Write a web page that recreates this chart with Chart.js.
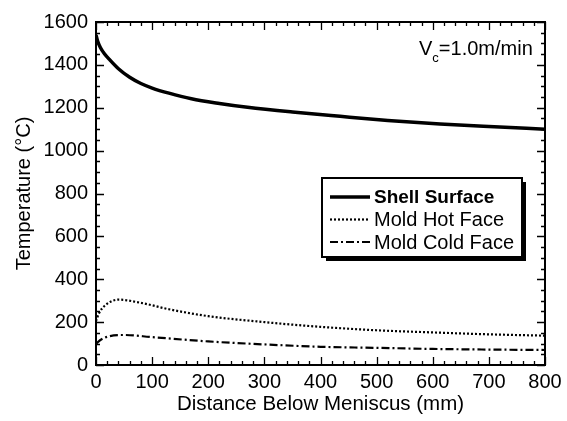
<!DOCTYPE html>
<html>
<head>
<meta charset="utf-8">
<title>Temperature Below Meniscus</title>
<script src="https://cdn.jsdelivr.net/npm/chart.js@4/dist/chart.umd.min.js"></script>
<style>
  body { margin: 0; background: #fff; }
  canvas { display: block; }
</style>
</head>
<body>
<canvas id="tempChart" width="567" height="421"></canvas>
<script>
// distances below meniscus (mm) and temperatures (C)
const shellX = [0, 3, 8, 15, 25, 40, 60, 80, 100, 130, 170, 220, 270, 350, 435, 520, 613, 700, 800];
const shellY = [1540, 1510, 1480, 1452, 1422, 1382, 1342, 1313, 1292, 1268, 1242, 1220, 1202, 1180, 1160, 1141, 1124, 1112, 1100];

const hotX = [0, 5, 15, 40, 80, 130, 200, 300, 400, 500, 600, 700, 800];
const hotY = [205, 240, 275, 305, 290, 260, 228, 200, 178, 162, 152, 143, 137];

const coldX = [0, 10, 25, 50, 100, 200, 300, 400, 500, 600, 700, 800];
const coldY = [100, 120, 135, 140, 130, 110, 96, 85, 80, 75, 72, 70];

const seriesNames = ['Shell Surface', 'Mold Hot Face', 'Mold Cold Face'];
const speedLabel = ['V', 'c', '=1.0m/min'];

const FONT = '"Liberation Sans", Arial, Helvetica, sans-serif';

function pts(xs, ys) {
  return xs.map((x, i) => ({ x: x, y: ys[i] }));
}

// inward ticks on all four sides, majors + minors
const tickMarks = {
  id: 'tickMarks',
  afterDatasetsDraw(chart) {
    const ctx = chart.ctx;
    const a = chart.chartArea;
    const xs = chart.scales.x, ys = chart.scales.y;
    ctx.save();
    ctx.strokeStyle = '#000';
    ctx.lineWidth = 1.3;
    ctx.beginPath();
    for (let v = 0; v <= 800; v += 20) {
      const p = Math.round(xs.getPixelForValue(v)) + 0.5;
      const len = v % 100 === 0 ? 8 : 4;
      ctx.moveTo(p, a.bottom); ctx.lineTo(p, a.bottom - len);
      ctx.moveTo(p, a.top); ctx.lineTo(p, a.top + len);
    }
    for (let v = 0; v <= 1600; v += 50) {
      const p = Math.round(ys.getPixelForValue(v)) + 0.5;
      const len = v % 200 === 0 ? 8 : 4;
      ctx.moveTo(a.left, p); ctx.lineTo(a.left + len, p);
      ctx.moveTo(a.right, p); ctx.lineTo(a.right - len, p);
    }
    ctx.stroke();
    ctx.lineWidth = 2;
    ctx.strokeRect(a.left, a.top, a.right - a.left, a.bottom - a.top);
    ctx.restore();
  }
};

// boxed legend with drop shadow + speed note
const boxLegend = {
  id: 'boxLegend',
  afterDraw(chart) {
    const ctx = chart.ctx;
    ctx.save();
    const bx = 322, by = 178, bw = 200, bh = 79;
    ctx.fillStyle = '#000';
    ctx.fillRect(bx + 4, by + 4, bw, bh);
    ctx.fillStyle = '#fff';
    ctx.fillRect(bx, by, bw, bh);
    ctx.strokeStyle = '#000';
    ctx.lineWidth = 2;
    ctx.strokeRect(bx, by, bw, bh);

    chart.data.datasets.forEach((ds, i) => {
      const y = 197 + i * 22.5;
      ctx.strokeStyle = '#000';
      ctx.lineWidth = ds.borderWidth;
      ctx.setLineDash(ds.borderDash || []);
      ctx.beginPath();
      ctx.moveTo(330, y);
      ctx.lineTo(370, y);
      ctx.stroke();
      ctx.setLineDash([]);
      ctx.fillStyle = '#000';
      ctx.textBaseline = 'middle';
      ctx.font = (i === 0 ? 'bold 19px ' : '20px ') + FONT;
      ctx.fillText(ds.label, 374, y + 1);
    });

    ctx.textBaseline = 'alphabetic';
    ctx.font = '20px ' + FONT;
    ctx.fillText(speedLabel[0], 419, 55);
    let x = 419 + ctx.measureText(speedLabel[0]).width;
    ctx.font = '13px ' + FONT;
    ctx.fillText(speedLabel[1], x, 62);
    x += ctx.measureText(speedLabel[1]).width;
    ctx.font = '20px ' + FONT;
    ctx.fillText(speedLabel[2], x, 55);
    ctx.restore();
  }
};

new Chart(document.getElementById('tempChart'), {
  type: 'line',
  data: {
    datasets: [
      {
        label: seriesNames[0],
        data: pts(shellX, shellY),
        borderColor: '#000',
        borderWidth: 3.5,
        cubicInterpolationMode: 'monotone'
      },
      {
        label: seriesNames[1],
        data: pts(hotX, hotY),
        borderColor: '#000',
        borderWidth: 2.2,
        borderDash: [2, 2],
        cubicInterpolationMode: 'monotone'
      },
      {
        label: seriesNames[2],
        data: pts(coldX, coldY),
        borderColor: '#000',
        borderWidth: 2.2,
        borderDash: [8, 3, 2, 3],
        cubicInterpolationMode: 'monotone'
      }
    ]
  },
  options: {
    responsive: false,
    animation: false,
    events: [],
    elements: { point: { radius: 0 } },
    layout: { padding: { top: 22, right: 22, left: 0, bottom: 0 } },
    plugins: {
      legend: { display: false },
      tooltip: { enabled: false }
    },
    scales: {
      x: {
        type: 'linear',
        min: 0, max: 800,
        afterFit(scale) { scale.height = 56; },
        grid: { display: false, drawTicks: false },
        border: { display: false },
        ticks: {
          stepSize: 100, padding: 5, color: '#000',
          font: { family: FONT, size: 20 },
          callback: v => String(v)
        },
        title: {
          display: true, text: 'Distance Below Meniscus (mm)', color: '#000',
          font: { family: FONT, size: 20.5 }, padding: { top: 0, bottom: 4 }
        }
      },
      y: {
        min: 0, max: 1600,
        afterFit(scale) { scale.width = 96; },
        grid: { display: false, drawTicks: false },
        border: { display: false },
        ticks: {
          stepSize: 200, padding: 8, color: '#000',
          font: { family: FONT, size: 20 },
          callback: v => String(v)
        },
        title: {
          display: true, text: 'Temperature (°C)', color: '#000',
          font: { family: FONT, size: 20 }, padding: { top: 12, bottom: 0 }
        }
      }
    }
  },
  plugins: [tickMarks, boxLegend]
});
</script>
</body>
</html>
